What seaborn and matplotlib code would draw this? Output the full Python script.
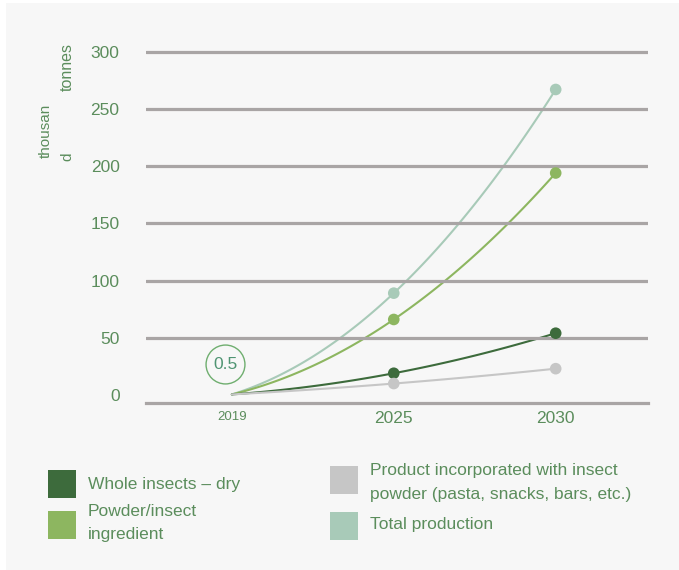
import numpy as np
import pandas as pd
import matplotlib
matplotlib.use("Agg")
import matplotlib.pyplot as plt
import seaborn as sns
from matplotlib.patches import Rectangle

# ---- data ----
years = ["2019", "2025", "2030"]
whole_dry = [0.5, 19, 54]
powder = [0.5, 66, 194]
product = [0.5, 10, 23]
total = [0.5, 89, 267]
series_names = ["Whole insects – dry", "Powder/insect\ningredient",
                "Product incorporated with insect\npowder (pasta, snacks, bars, etc.)",
                "Total production"]
y_ticks = [0, 50, 100, 150, 200, 250, 300]
start_label = "0.5"

colors = {
    "whole": "#3d6b3c",
    "powder": "#8db660",
    "product": "#c6c6c6",
    "total": "#a8cab8",
}
text_color = "#5b8d5c"
grid_color = "#a9a5a5"

sns.set_theme(style="white")
plt.rcParams["font.family"] = ["Liberation Sans", "DejaVu Sans"]

fig = plt.figure(figsize=(6.79, 5.70), dpi=100, facecolor="white")
fig.patches.append(Rectangle((6 / 679, 0), 673 / 679, 567 / 570,
                             transform=fig.transFigure, facecolor="#f7f7f7",
                             edgecolor="none", zorder=-10))

ax = fig.add_axes([146 / 679, (570 - 403) / 570, 502 / 679, (403 - 46) / 570])
ax.set_facecolor("none")

xpos = np.arange(len(years))
rows = []
for key, vals in [("total", total), ("powder", powder), ("whole", whole_dry), ("product", product)]:
    coef = np.polyfit(xpos, vals, 2)
    xs = np.linspace(0, 2, 120)
    for xv in xs:
        rows.append({"x": xv, "y": np.polyval(coef, xv), "series": key})
curves = pd.DataFrame(rows)

sns.lineplot(data=curves, x="x", y="y", hue="series", palette=colors,
             linewidth=1.5, legend=False, ax=ax, zorder=2)

pts = []
for key, vals in [("total", total), ("powder", powder), ("whole", whole_dry), ("product", product)]:
    for i in (1, 2):
        pts.append({"x": xpos[i], "y": vals[i], "series": key})
pts = pd.DataFrame(pts)
sns.scatterplot(data=pts, x="x", y="y", hue="series", palette=colors, s=70,
                edgecolor="none", legend=False, ax=ax, zorder=5)

for yv in y_ticks[1:]:
    ax.axhline(yv, color=grid_color, lw=2.3, zorder=3)

ax.set_xlim(-0.53, 2.57)
ax.set_ylim(-7, 305)
ax.set_yticks(y_ticks)
ax.set_yticklabels([str(v) for v in y_ticks], fontsize=12.5, color=text_color)
ax.set_xticks(xpos)
ax.set_xticklabels(years, color=text_color)
for i, lab in enumerate(ax.get_xticklabels()):
    lab.set_fontsize(9.5 if i == 0 else 12.5)
ax.tick_params(axis="y", length=0, pad=19)
ax.tick_params(axis="x", length=0, pad=6)
ax.set_xlabel("")
ax.set_ylabel("")
for s in ["left", "right", "top"]:
    ax.spines[s].set_visible(False)
ax.spines["bottom"].set_color(grid_color)
ax.spines["bottom"].set_linewidth(2.3)

# annotation circle 0.5
ax.plot([-0.04], [27], marker="o", markersize=28, mfc="none", mec="#6fae6f",
        mew=1.0, zorder=6, clip_on=False)
ax.text(-0.04, 27, start_label, ha="center", va="center", fontsize=12.5,
        color="#4f9472", zorder=7)

# y-axis label pieces
fig.text(46 / 679, 1 - 131 / 570, "thousan", rotation=90, ha="center", va="center",
         fontsize=11, color=text_color)
fig.text(67 / 679, 1 - 157 / 570, "d", rotation=90, ha="center", va="center",
         fontsize=11, color=text_color)
fig.text(67 / 679, 1 - 67 / 570, "tonnes", rotation=90, ha="center", va="center",
         fontsize=11.5, color=text_color)

# legend
legend_items = [
    (48, 470, colors["whole"], series_names[0], 484),
    (48, 511, colors["powder"], series_names[1], 523),
    (330, 466, colors["product"], series_names[2], 483),
    (330, 512, colors["total"], series_names[3], 525),
]
for x0, y0, col, label, ty in legend_items:
    fig.patches.append(Rectangle((x0 / 679, 1 - (y0 + 28) / 570), 28 / 679, 28 / 570,
                                 transform=fig.transFigure, facecolor=col,
                                 edgecolor="none"))
    fig.text((x0 + 40) / 679, 1 - ty / 570, label, ha="left", va="center",
             fontsize=12.5, color=text_color, linespacing=1.75)

fig.savefig("out.png", dpi=100, facecolor=fig.get_facecolor())
